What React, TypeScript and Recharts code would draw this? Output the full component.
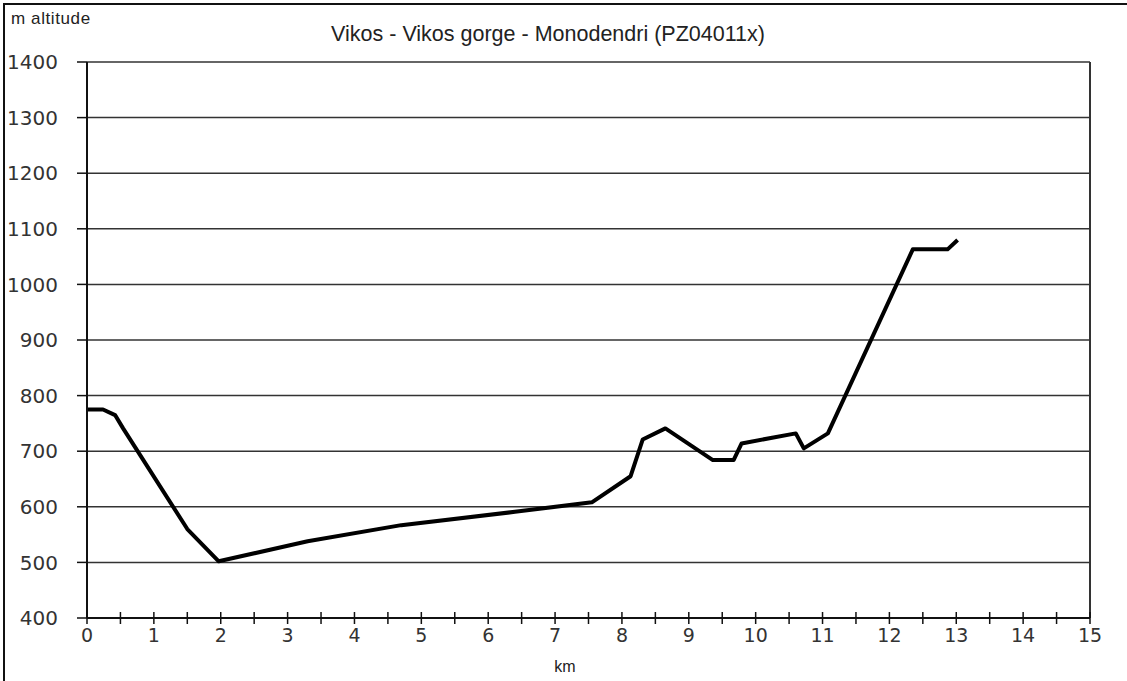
import React from "react";
import { LineChart, Line, XAxis, YAxis, CartesianGrid, ReferenceLine } from "recharts";

// altitude profile
const distanceKm = [
  0, 0.24, 0.42, 0.54, 1.5, 1.97, 3.3, 4.7, 6.4, 7.55, 8.13, 8.31, 8.65, 9.36, 9.67,
  9.79, 10.6, 10.72, 11.08, 12.35, 12.87, 13.02,
];
const altitudeM = [
  775, 775, 765, 741, 560, 502, 538, 567, 591, 608, 655, 721, 741, 684, 684, 714, 732,
  705, 732, 1063, 1063, 1080,
];

const xTicks = [
  0, 0.5, 1, 1.5, 2, 2.5, 3, 3.5, 4, 4.5, 5, 5.5, 6, 6.5, 7, 7.5, 8, 8.5, 9, 9.5, 10,
  10.5, 11, 11.5, 12, 12.5, 13, 13.5, 14, 14.5, 15,
];
const yTicks = [400, 500, 600, 700, 800, 900, 1000, 1100, 1200, 1300, 1400];

const data = distanceKm.map((km, i) => ({ km, alt: altitudeM[i] }));

const labelFont = "'DejaVu Sans', Verdana, sans-serif";
const textFont = "'Liberation Sans', Arial, sans-serif";

function KmTick(props: any) {
  const { x, y, payload } = props;
  const v = payload.value as number;
  return (
    <g>
      <line x1={x} x2={x} y1={y - 6} y2={y + 6} stroke="#111" strokeWidth={1.5} />
      {Number.isInteger(v) && (
        <text
          x={x}
          y={y + 24}
          textAnchor="middle"
          fill="#333"
          fontSize={19}
          fontFamily={labelFont}
        >
          {v}
        </text>
      )}
    </g>
  );
}

export default function App() {
  return (
    <div
      style={{
        position: "absolute",
        left: 0,
        top: 0,
        width: 1127,
        height: 681,
        background: "#fff",
        overflow: "hidden",
      }}
    >
      <div
        style={{
          position: "absolute",
          left: 3,
          top: 3,
          right: -4,
          bottom: -4,
          borderLeft: "2px solid #111",
          borderTop: "2px solid #111",
        }}
      />
      <div
        style={{
          position: "absolute",
          left: 11,
          top: 9,
          fontFamily: textFont,
          fontSize: 17,
          letterSpacing: 0.6,
          color: "#222",
        }}
      >
        m altitude
      </div>
      <div
        style={{
          position: "absolute",
          left: 0,
          width: 1096,
          top: 22,
          textAlign: "center",
          fontFamily: textFont,
          fontSize: 21.5,
          color: "#222",
        }}
      >
        Vikos - Vikos gorge - Monodendri (PZ04011x)
      </div>
      <div
        style={{
          position: "absolute",
          left: 553,
          width: 24,
          top: 658,
          textAlign: "center",
          fontFamily: textFont,
          fontSize: 16,
          color: "#222",
        }}
      >
        km
      </div>
      <div style={{ position: "absolute", left: 0, top: 0 }}>
        <LineChart
          width={1127}
          height={681}
          data={data}
          margin={{ top: 62, right: 37, bottom: 33, left: 7 }}
        >
          <CartesianGrid
            horizontal={true}
            vertical={false}
            stroke="#333"
            strokeWidth={1.5}
            strokeDasharray="0"
          />
          <XAxis
            type="number"
            dataKey="km"
            domain={[0, 15]}
            ticks={xTicks}
            interval={0}
            height={30}
            tickSize={0}
            tickMargin={0}
            tickLine={false}
            axisLine={{ stroke: "#111", strokeWidth: 2 }}
            tick={<KmTick />}
          />
          <YAxis
            type="number"
            domain={[400, 1400]}
            ticks={yTicks}
            interval={0}
            width={80}
            tickSize={10}
            tickMargin={19}
            tickLine={{ stroke: "#111", strokeWidth: 1.5 }}
            axisLine={{ stroke: "#111", strokeWidth: 2 }}
            tick={{ fill: "#333", fontSize: 20, fontFamily: labelFont }}
          />
          <ReferenceLine x={15} stroke="#333" strokeWidth={2} />
          <Line
            type="linear"
            dataKey="alt"
            stroke="#000"
            strokeWidth={4}
            dot={false}
            strokeLinejoin="round"
            isAnimationActive={false}
          />
        </LineChart>
      </div>
    </div>
  );
}
